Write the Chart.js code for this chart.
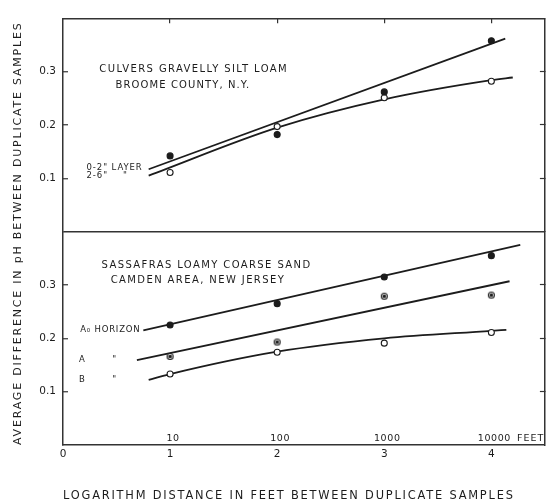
<!DOCTYPE html>
<html>
<head>
<meta charset="utf-8">
<script src="https://cdn.jsdelivr.net/npm/chart.js@4.4.1/dist/chart.umd.min.js"></script>
<style>
  html, body { margin: 0; padding: 0; background: #fff; }
  #wrap { width: 549px; height: 502px; }
</style>
</head>
<body>
<div id="wrap"><canvas id="soilChart"></canvas></div>
<script>
// log10 of distance (feet) between the duplicate samples
const logDistance = [1, 2, 3, 4];
const axisTicks = [0, 1, 2, 3, 4];
const feetLabels = ['10', '100', '1000', '10000'];
const pHTicks = [0.1, 0.2, 0.3];

// Culvers gravelly silt loam, Broome County N.Y.
const culvers0to2 = [0.142, 0.182, 0.262, 0.358];
const culvers2to6 = [0.111, 0.197, 0.251, 0.282];
// fitted curves as drawn on the figure
const culversFit0to2X = [0.80, 4.13];
const culversFit0to2Y = [0.117, 0.362];
const culversFit2to6X = [0.80, 2, 3, 4, 4.20];
const culversFit2to6Y = [0.105, 0.195, 0.248, 0.284, 0.289];

// Sassafras loamy coarse sand, Camden area N.J.
const sassafrasA0 = [0.225, 0.265, 0.315, 0.355];
const sassafrasA = [0.166, 0.193, 0.279, 0.281];
const sassafrasB = [0.133, 0.174, 0.191, 0.211];
const sassafrasFitA0X = [0.75, 4.27];
const sassafrasFitA0Y = [0.215, 0.375];
const sassafrasFitAX = [0.69, 4.17];
const sassafrasFitAY = [0.159, 0.307];
const sassafrasFitBX = [0.80, 1, 2, 3, 4, 4.14];
const sassafrasFitBY = [0.122, 0.133, 0.175, 0.200, 0.214, 0.216];

const FONT = '"DejaVu Sans"';
const INK = '#1c1c1c';

function pts(xs, ys) {
  return xs.map((x, i) => ({ x: x, y: ys[i] }));
}

// circle with a dark centre, used for the A horizon
function ringDot() {
  const c = document.createElement('canvas');
  c.width = 9; c.height = 9;
  const g = c.getContext('2d');
  g.fillStyle = '#fff';
  g.strokeStyle = INK;
  g.lineWidth = 1.1;
  g.beginPath(); g.arc(4.5, 4.5, 3, 0, Math.PI * 2); g.fill(); g.stroke();
  g.fillStyle = INK;
  g.beginPath(); g.arc(4.5, 4.5, 1.7, 0, Math.PI * 2); g.fill();
  return c;
}

function fitLine(xs, ys, axis, curved) {
  return {
    data: pts(xs, ys), yAxisID: axis, showLine: true, pointRadius: 0,
    borderColor: INK, borderWidth: 1.8, order: 2,
    cubicInterpolationMode: curved ? 'monotone' : 'default'
  };
}

function marks(ys, axis, style) {
  const d = { data: pts(logDistance, ys), yAxisID: axis, showLine: false, order: 1,
    pointRadius: 3, pointHoverRadius: 3, borderWidth: 1.1, pointBorderColor: INK };
  if (style === 'filled') { d.pointBackgroundColor = INK; }
  else if (style === 'open') { d.pointBackgroundColor = '#fff'; }
  else { d.pointStyle = ringDot(); }
  return d;
}

const panelNotes = [
  { axis: 'yT', x: 1.22, y: 0.304, text: 'CULVERS GRAVELLY SILT LOAM', align: 'center', size: 10, spacing: 1.4 },
  { axis: 'yT', x: 1.12, y: 0.275, text: 'BROOME COUNTY, N.Y.', align: 'center', size: 10, spacing: 1.1 },
  { axis: 'yT', x: 0.22, y: 0.120, text: '0-2" LAYER', align: 'left', size: 8.5, spacing: 0.9 },
  { axis: 'yT', x: 0.22, y: 0.105, text: '2-6"', align: 'left', size: 8.5, spacing: 0.9 },
  { axis: 'yT', x: 0.56, y: 0.105, text: '"', align: 'left', size: 8.5, spacing: 0.9 },
  { axis: 'yB', x: 1.34, y: 0.337, text: 'SASSAFRAS LOAMY COARSE SAND', align: 'center', size: 10, spacing: 1.4 },
  { axis: 'yB', x: 1.26, y: 0.309, text: 'CAMDEN AREA, NEW JERSEY', align: 'center', size: 10, spacing: 1.4 },
  { axis: 'yB', x: 0.16, y: 0.216, text: 'A₀ HORIZON', align: 'left', size: 8.5, spacing: 0.8 },
  { axis: 'yB', x: 0.15, y: 0.160, text: 'A', align: 'left', size: 8.5, spacing: 0.8 },
  { axis: 'yB', x: 0.46, y: 0.160, text: '"', align: 'left', size: 8.5, spacing: 0.8 },
  { axis: 'yB', x: 0.15, y: 0.123, text: 'B', align: 'left', size: 8.5, spacing: 0.8 },
  { axis: 'yB', x: 0.46, y: 0.123, text: '"', align: 'left', size: 8.5, spacing: 0.8 }
];

const notesPlugin = {
  id: 'panelNotes',
  beforeDraw(chart) {
    // axis titles are lettered wide
    chart.ctx.letterSpacing = '1.8px';
  },
  afterDatasetsDraw(chart) {
    const { ctx, scales } = chart;
    ctx.save();
    ctx.fillStyle = INK;
    ctx.textBaseline = 'middle';
    panelNotes.forEach(n => {
      ctx.font = n.size + 'px ' + FONT;
      ctx.letterSpacing = n.spacing + 'px';
      ctx.textAlign = n.align;
      ctx.fillText(n.text, scales.x.getPixelForValue(n.x), scales[n.axis].getPixelForValue(n.y));
    });
    // distances in feet, just above the axis
    ctx.font = '9.5px ' + FONT;
    ctx.letterSpacing = '0.6px';
    ctx.textAlign = 'center';
    const yy = scales.yB.getPixelForValue(0) - 6;
    logDistance.forEach((v, i) => {
      ctx.fillText(feetLabels[i], scales.x.getPixelForValue(v) + 3, yy);
    });
    const last = logDistance.length - 1;
    const w = ctx.measureText(feetLabels[last]).width;
    ctx.textAlign = 'left';
    ctx.letterSpacing = '1px';
    ctx.fillText('FEET', scales.x.getPixelForValue(logDistance[last]) + 3 + w / 2 + 6, yy);
    ctx.restore();
    ctx.letterSpacing = '0px';
  }
};

const hidden = 'rgba(0,0,0,0)';
const tickOnly = ctx => (ctx.tick && pHTicks.includes(ctx.tick.value)) ? '#333' : hidden;

function leftAxis(stackName, gridColor) {
  return {
    type: 'linear', position: 'left', stack: stackName, stackWeight: 1, min: 0, max: 0.4,
    afterBuildTicks: s => { s.ticks = [0].concat(pHTicks, [0.4]).map(v => ({ value: v })); },
    ticks: { z: 1, padding: 12, color: INK, font: { family: FONT, size: 10.5 },
      callback: v => pHTicks.includes(v) ? v.toFixed(1) : '' },
    grid: { drawOnChartArea: true, tickLength: -5, color: gridColor, lineWidth: 1.5,
      tickColor: tickOnly, tickWidth: 1.2 },
    border: { color: '#333', width: 1.5 },
    afterFit: s => { s.width = 40; }
  };
}

function rightAxis(stackName) {
  return {
    type: 'linear', position: 'right', stack: stackName, stackWeight: 1, min: 0, max: 0.4,
    afterBuildTicks: s => { s.ticks = [0].concat(pHTicks, [0.4]).map(v => ({ value: v })); },
    ticks: { display: false },
    grid: { drawOnChartArea: false, tickLength: -5, tickColor: tickOnly, tickWidth: 1.2 },
    border: { color: '#333', width: 1.5 },
    afterFit: s => { s.width = 1; }
  };
}

new Chart(document.getElementById('soilChart'), {
  type: 'scatter',
  data: {
    datasets: [
      fitLine(culversFit0to2X, culversFit0to2Y, 'yT', false),
      fitLine(culversFit2to6X, culversFit2to6Y, 'yT', true),
      marks(culvers0to2, 'yT', 'filled'),
      marks(culvers2to6, 'yT', 'open'),
      fitLine(sassafrasFitA0X, sassafrasFitA0Y, 'yB', false),
      fitLine(sassafrasFitAX, sassafrasFitAY, 'yB', false),
      fitLine(sassafrasFitBX, sassafrasFitBY, 'yB', true),
      marks(sassafrasA0, 'yB', 'filled'),
      marks(sassafrasA, 'yB', 'ring'),
      marks(sassafrasB, 'yB', 'open')
    ]
  },
  options: {
    responsive: true,
    maintainAspectRatio: false,
    animation: false,
    layout: { padding: { top: 13, right: 0, bottom: 0, left: 0 } },
    plugins: { legend: { display: false }, tooltip: { enabled: false } },
    scales: {
      x: {
        type: 'linear', position: 'bottom', min: 0, max: 4.5,
        afterBuildTicks: s => { s.ticks = axisTicks.map(v => ({ value: v })); },
        ticks: { z: 1, padding: 3, color: INK, font: { family: FONT, size: 10.5 }, maxRotation: 0 },
        grid: { drawOnChartArea: false, drawTicks: false },
        border: { color: '#333', width: 1.5 },
        title: { display: true, text: 'LOGARITHM DISTANCE IN FEET BETWEEN DUPLICATE SAMPLES',
          align: 'start', color: INK, font: { family: FONT, size: 11.4, lineHeight: 1 },
          padding: { top: 0, bottom: 0 } },
        afterFit: s => { s.height = 57; }
      },
      xTop: {
        type: 'linear', position: 'top', min: 0, max: 4.5,
        afterBuildTicks: s => { s.ticks = logDistance.map(v => ({ value: v })); },
        ticks: { display: false },
        grid: { drawOnChartArea: false, tickLength: -5, color: '#333', lineWidth: 1.2 },
        border: { color: '#333', width: 1.5 },
        afterFit: s => { s.height = 0; }
      },
      yB: leftAxis('left', ctx => (ctx.tick && ctx.tick.value === 0.4) ? '#333' : hidden),
      yT: leftAxis('left', hidden),
      yBR: rightAxis('right'),
      yTR: rightAxis('right'),
      yTitle: {
        type: 'linear', position: 'left', min: 0, max: 1,
        ticks: { display: false },
        grid: { display: false },
        border: { display: false },
        title: { display: true, text: 'AVERAGE DIFFERENCE IN pH BETWEEN DUPLICATE SAMPLES',
          align: 'start', color: INK, font: { family: FONT, size: 11, lineHeight: 1 },
          padding: { top: 12.5, bottom: 0 } },
        afterFit: s => { s.width = 23; }
      }
    }
  },
  plugins: [notesPlugin]
});
</script>
</body>
</html>
